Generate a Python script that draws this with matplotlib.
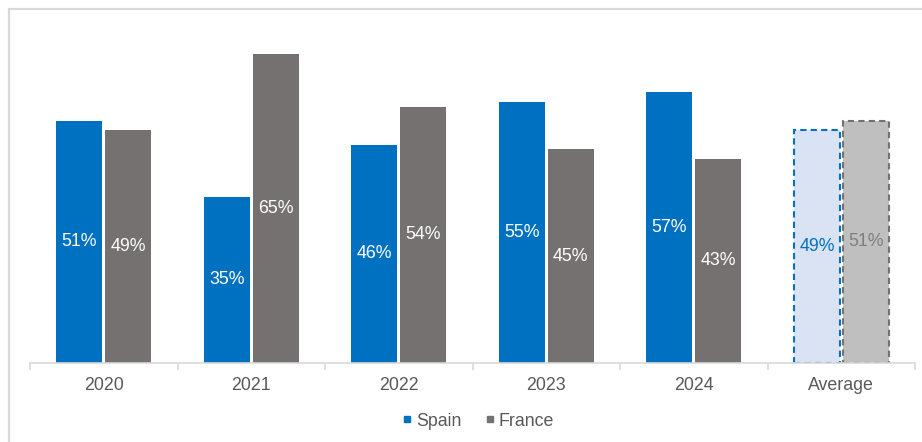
import matplotlib
matplotlib.use("Agg")
import matplotlib.pyplot as plt
from matplotlib.patches import Rectangle
from matplotlib.lines import Line2D
import numpy as np

plt.rcParams['font.family'] = ['Liberation Sans', 'DejaVu Sans']

categories = ["2020", "2021", "2022", "2023", "2024", "Average"]
spain = [0.51, 0.35, 0.46, 0.55, 0.57, 0.49]
france = [0.49, 0.65, 0.54, 0.45, 0.43, 0.51]

BLUE = "#0070C0"
GREY = "#767171"
LIGHT_BLUE = "#DAE3F3"
LIGHT_GREY = "#BFBFBF"
TEXT = "#595959"
AXIS = "#D9D9D9"
FS = 12.8

fig = plt.figure(figsize=(9.22, 4.42), dpi=100)
ax = fig.add_axes([30 / 922, 79 / 442, 885 / 922, 332.5 / 442])

# Outer frame of the chart area
fig.patches.append(Rectangle((9 / 922, -0.1), 1.2, (442 - 8.5) / 442 + 0.1,
                             transform=fig.transFigure, fill=False,
                             edgecolor="#D9D9D9", linewidth=1.6, zorder=0))

x = np.arange(len(categories))
w = 0.312
off = 0.165
n_years = len(categories) - 1

for i in range(len(categories)):
    avg = i == n_years
    if avg:
        ax.bar(x[i] - off, spain[i], w, color=LIGHT_BLUE, edgecolor=BLUE,
               linestyle=(0, (3, 2)), linewidth=1.5)
        ax.bar(x[i] + off, france[i], w, color=LIGHT_GREY, edgecolor=GREY,
               linestyle=(0, (3, 2)), linewidth=1.5)
        sc, fc = BLUE, "#7F7F7F"
    else:
        ax.bar(x[i] - off, spain[i], w, color=BLUE, linewidth=0)
        ax.bar(x[i] + off, france[i], w, color=GREY, linewidth=0)
        sc, fc = "white", "white"
    ax.text(x[i] - off, spain[i] / 2, f"{spain[i] * 100:.0f}%", ha="center",
            va="center", color=sc, fontsize=FS)
    ax.text(x[i] + off, france[i] / 2, f"{france[i] * 100:.0f}%", ha="center",
            va="center", color=fc, fontsize=FS)

ax.set_xlim(-0.5, len(categories) - 0.5)
ax.set_ylim(0, 0.7)
ax.set_yticks([])
for s in ["top", "right", "left"]:
    ax.spines[s].set_visible(False)
ax.spines["bottom"].set_color(AXIS)
ax.spines["bottom"].set_linewidth(1.2)

ax.set_xticks(x)
ax.set_xticklabels(categories, color=TEXT, fontsize=FS)
ax.tick_params(axis="x", length=0, pad=10)
ax.set_xticks(np.arange(-0.5, len(categories)), minor=True)
ax.tick_params(axis="x", which="minor", length=5, color=AXIS, width=1.2)

handles = [Line2D([], [], marker="s", linestyle="none", color=BLUE, markersize=5),
           Line2D([], [], marker="s", linestyle="none", color=GREY, markersize=5)]
fig.legend(handles, ["Spain", "France"], loc="center", bbox_to_anchor=(477 / 922, 1 - 421 / 442),
           ncol=2, frameon=False, fontsize=FS, labelcolor=TEXT, handletextpad=0.1,
           columnspacing=1.2, handlelength=0.8)

fig.savefig("out.png", dpi=100)
